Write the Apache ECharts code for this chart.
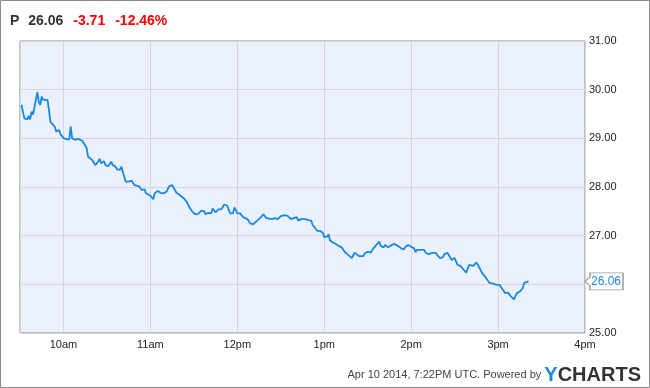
<!DOCTYPE html>
<html>
<head>
<meta charset="utf-8">
<script src="https://cdn.jsdelivr.net/npm/echarts@6/dist/echarts.min.js"></script>
<style>
html,body{margin:0;padding:0;background:#fff;}
#c{width:650px;height:388px;}
</style>
</head>
<body>
<div id="c"></div>
<script>
// ---- data ----
const sessionDate = [2014, 3, 10];           // Apr 10 2014
const sessionOpen = [9, 30];                 // 9:30am
const sessionClose = [16, 0];                // 4pm
const minutesAfterOpen = [
  1,3,4,5,6,7,8,9,12,13,14,15,16,17,19,20,21,22,24,25,26,27,28,30,32,34,35,36,37,38,40,43,44,46,47,50,51,52,54,55,56,58,59,61,63,64,66,67,69,70,71,73,75,77,79,82,84,86,87,90,92,93,95,97,99,101,103,105,106,108,110,113,115,117,119,121,123,125,127,128,130,132,133,135,137,139,141,143,145,147,148,150,152,154,157,158,159,161,163,166,168,170,171,174,176,178,180,181,183,185,187,189,191,192,194,195,197,199,201,202,204,205,207,209,210,212,213,214,216,218,220,222,224,226,227,229,231,232,234,237,238,240,242,244,246,248,249,251,252,254,255,258,259,261,263,265,266,268,270,272,273,274,275,277,279,280,282,284,287,288,290,292,293,295,296,298,300,301,302,304,306,307,308,310,311,313,315,316,317,319,320,322,324,326,327,329,331,333,334,335,336,337,338,339,341,342,343,345,347,348,349,351
];
const prices = [
  29.69,29.41,29.44,29.39,29.46,29.39,29.55,29.49,29.95,29.75,29.69,29.86,29.79,29.80,29.79,29.58,29.34,29.38,29.24,29.14,29.10,29.17,29.08,29.01,28.98,28.98,29.24,29.00,29.03,28.97,28.99,28.95,28.92,28.80,28.62,28.55,28.50,28.45,28.52,28.58,28.49,28.53,28.45,28.43,28.52,28.45,28.42,28.36,28.35,28.42,28.31,28.11,28.11,28.13,28.04,28.02,27.94,27.95,27.87,27.82,27.75,27.87,27.92,27.88,27.87,27.90,28.02,28.04,28.01,27.88,27.84,27.77,27.70,27.58,27.49,27.44,27.45,27.51,27.51,27.44,27.47,27.46,27.56,27.48,27.54,27.54,27.64,27.62,27.46,27.46,27.58,27.46,27.46,27.38,27.34,27.36,27.25,27.23,27.29,27.37,27.44,27.36,27.40,27.34,27.36,27.34,27.40,27.38,27.42,27.40,27.34,27.36,27.38,27.31,27.34,27.31,27.34,27.32,27.31,27.22,27.15,27.10,27.10,27.06,26.97,26.98,27.03,26.90,26.86,26.83,26.79,26.76,26.67,26.62,26.65,26.54,26.65,26.64,26.58,26.58,26.64,26.67,26.65,26.74,26.81,26.88,26.79,26.76,26.81,26.76,26.77,26.83,26.86,26.79,26.74,26.72,26.77,26.81,26.77,26.74,26.66,26.71,26.72,26.71,26.71,26.65,26.62,26.64,26.65,26.60,26.54,26.56,26.62,26.65,26.62,26.50,26.54,26.51,26.40,26.38,26.31,26.27,26.24,26.40,26.38,26.38,26.45,26.43,26.35,26.23,26.19,26.12,26.03,26.02,26.01,25.99,25.99,25.90,25.88,25.82,25.80,25.83,25.78,25.75,25.69,25.76,25.82,25.85,25.92,26.03,26.02,26.06
];
const yTicks = [25, 26, 27, 28, 29, 30, 31];
const ticker = 'P';
const lastPrice = 26.06;
const change = '-3.71';
const changePct = '-12.46%';
const footerText = 'Apr 10 2014, 7:22PM UTC. Powered by ';

// ---- build ----
const openTs = new Date(sessionDate[0], sessionDate[1], sessionDate[2], sessionOpen[0], sessionOpen[1]).getTime();
const closeTs = new Date(sessionDate[0], sessionDate[1], sessionDate[2], sessionClose[0], sessionClose[1]).getTime();
const seriesData = minutesAfterOpen.map((m, i) => [openTs + m * 60000, prices[i]]);

function hourLabel(v) {
  const d = new Date(v);
  if (d.getMinutes() !== 0) return '';
  const h = d.getHours();
  const h12 = h % 12 === 0 ? 12 : h % 12;
  return h12 + (h < 12 ? 'am' : 'pm');
}

const FONT = 'Liberation Sans';
const chart = echarts.init(document.getElementById('c'), null, {renderer: 'canvas'});
chart.setOption({
  animation: false,
  backgroundColor: '#fff',
  textStyle: {fontFamily: FONT},
  title: [{
    left: 10, top: 12, padding: 0,
    text: '{k|' + ticker + '} {k| ' + lastPrice.toFixed(2) + '}  {r|' + change + '}  {r|' + changePct + '}',
    textStyle: {
      rich: {
        k: {fontFamily: FONT, fontSize: 14, fontWeight: 'bold', color: '#333333', lineHeight: 16},
        r: {fontFamily: FONT, fontSize: 14, fontWeight: 'bold', color: '#ff0000', lineHeight: 16}
      }
    }
  }, {
    right: 9, top: 365, padding: 0,
    text: '{d|' + footerText + '}{y|Y}{c|CHARTS}',
    textStyle: {
      rich: {
        d: {fontFamily: FONT, fontSize: 11, fontWeight: 'normal', color: '#444444', lineHeight: 20, verticalAlign: 'middle'},
        y: {fontFamily: FONT, fontSize: 20, fontWeight: 'bold', color: '#1a8ae0', lineHeight: 20, verticalAlign: 'middle'},
        c: {fontFamily: FONT, fontSize: 20, fontWeight: 'bold', color: '#333333', lineHeight: 20, verticalAlign: 'middle'}
      }
    }
  }],
  graphic: [{
    type: 'rect', silent: true, z: 100,
    shape: {x: 0.5, y: 0.5, width: 649, height: 387},
    style: {fill: 'none', stroke: '#8a8a8a', lineWidth: 1}
  }],
  grid: {
    left: 20, right: 65, top: 41, bottom: 55,
    show: true, backgroundColor: '#eaf1fc', borderColor: '#8a8a8a', borderWidth: 1
  },
  xAxis: {
    type: 'time',
    min: openTs, max: closeTs,
    minInterval: 3600000, maxInterval: 3600000,
    axisLine: {show: false},
    axisTick: {show: false},
    splitLine: {show: true, lineStyle: {color: '#d6d6d6', width: 1}},
    axisLabel: {
      formatter: hourLabel, color: '#222', fontSize: 11, fontFamily: FONT, margin: 6,
      showMinLabel: false, showMaxLabel: true, hideOverlap: false
    }
  },
  yAxis: {
    type: 'value', position: 'right',
    min: yTicks[0], max: yTicks[yTicks.length - 1], interval: 1,
    axisLine: {show: false},
    axisTick: {show: false},
    splitLine: {show: true, lineStyle: {color: '#d6d6d6', width: 1}},
    axisLabel: {formatter: v => v.toFixed(2), color: '#222', fontSize: 11, fontFamily: FONT, margin: 4}
  },
  series: [{
    type: 'line',
    data: seriesData,
    showSymbol: false,
    symbol: 'none',
    lineStyle: {color: '#1a88e3', width: 1.8},
    markPoint: {
      silent: true,
      symbol: 'path://M0,8.5 L5,4 L5,0 L38,0 L38,17 L5,17 L5,13 Z',
      symbolSize: [38, 17],
      symbolKeepAspect: false,
      symbolOffset: [19, 0],
      itemStyle: {color: '#ffffff', borderColor: '#9a9a9a', borderWidth: 1},
      label: {
        show: true, position: 'inside', offset: [2, 0],
        formatter: p => p.value.toFixed(2),
        color: '#1a88e3', fontSize: 12, fontFamily: FONT
      },
      data: [{coord: [closeTs, lastPrice], value: lastPrice}]
    }
  }]
});
</script>
</body>
</html>
